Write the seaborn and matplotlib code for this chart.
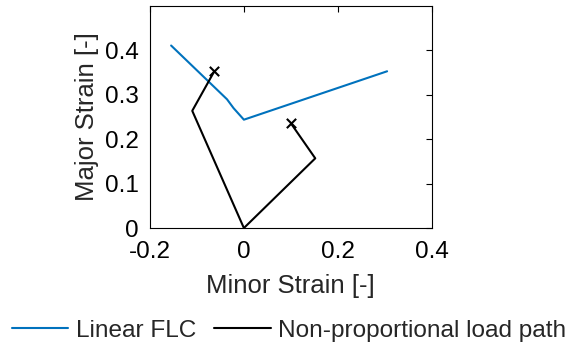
import matplotlib
matplotlib.use("Agg")
import matplotlib.pyplot as plt
import seaborn as sns
import numpy as np

# Data
flc_minor = [-0.155, -0.036, -0.022, 0.0, 0.305]
flc_major = [0.411, 0.290, 0.270, 0.244, 0.353]

path1_minor = [0.0, 0.152, 0.100]
path1_major = [0.0, 0.157, 0.236]
path2_minor = [0.0, -0.110, -0.063]
path2_major = [0.0, 0.264, 0.353]

xticks = [-0.2, 0, 0.2, 0.4]
xticklabels = ["-0.2", "0", "0.2", "0.4"]
yticks = [0, 0.1, 0.2, 0.3, 0.4]
yticklabels = ["0", "0.1", "0.2", "0.3", "0.4"]

sns.set_style("white")
plt.rcParams['font.family'] = ['Liberation Sans', 'DejaVu Sans']

fig = plt.figure(figsize=(5.69, 3.45), dpi=100)
ax = fig.add_axes([0.2636, 0.339, 0.7587 - 0.2636, 0.9826 - 0.339])

blue = "#0072BD"
sns.lineplot(x=flc_minor, y=flc_major, sort=False, estimator=None, color=blue,
             lw=1.5, ax=ax, label="Linear FLC")
sns.lineplot(x=path1_minor, y=path1_major, sort=False, estimator=None, color="black",
             lw=1.5, ax=ax, label="Non-proportional load path")
sns.lineplot(x=path2_minor, y=path2_major, sort=False, estimator=None, color="black",
             lw=1.5, ax=ax)
ax.scatter([path1_minor[-1], path2_minor[-1]], [path1_major[-1], path2_major[-1]],
           marker="x", color="black", s=45, linewidths=1.5, zorder=5)

ax.set_xlim(-0.2, 0.4)
ax.set_ylim(0, 0.5)
ax.set_xticks(xticks)
ax.set_xticklabels(xticklabels)
ax.set_yticks(yticks)
ax.set_yticklabels(yticklabels)
ax.tick_params(direction="in", length=4, width=0.8, top=True, right=True,
               labelsize=17.5, colors="black")
ax.tick_params(axis="x", pad=9)
ax.tick_params(axis="y", pad=8)
for s in ax.spines.values():
    s.set_visible(True)
    s.set_color("black")
    s.set_linewidth(0.8)
ax.set_xlabel("Minor Strain [-]", fontsize=18.5, labelpad=8, color="#262626")
ax.set_ylabel("Major Strain [-]", fontsize=18.5, labelpad=4, color="#262626")

ax.get_legend().remove()
h, l = ax.get_legend_handles_labels()
fig.legend(h, l, loc="center", bbox_to_anchor=(0.508, 0.042), ncol=2, frameon=False,
           fontsize=17.6, handlelength=2.3, handletextpad=0.3, columnspacing=0.75,
           borderpad=0, borderaxespad=0)

fig.savefig("out.png", dpi=100)
